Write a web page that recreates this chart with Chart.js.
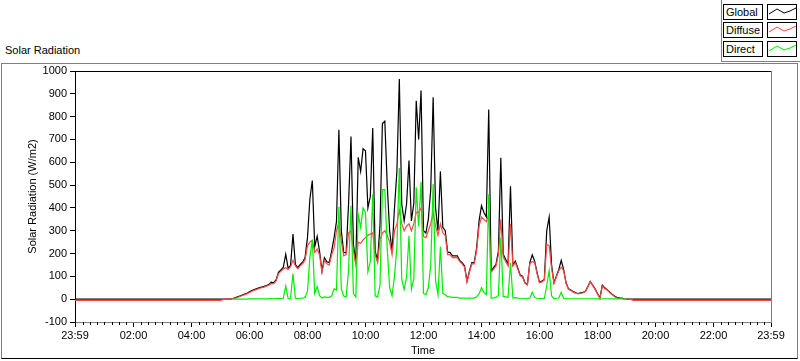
<!DOCTYPE html>
<html>
<head>
<meta charset="utf-8">
<title>Solar Radiation</title>
<script src="https://cdn.jsdelivr.net/npm/chart.js@4.4.1/dist/chart.umd.min.js"></script>
<style>
  html, body { margin: 0; padding: 0; background: #fff; }
  body { width: 800px; height: 361px; position: relative; overflow: hidden;
         font-family: "Liberation Sans", Arial, sans-serif; font-size: 11px; color: #000; }
  .frame { position: absolute; left: 1px; top: 63px; width: 795px; height: 294px;
           border: 1px solid #808080; border-bottom-color: #000; }
  .legpanel { position: absolute; left: 721px; top: 0; width: 79px; height: 61px;
              border-left: 1px solid #808080; border-bottom: 1px solid #808080; }
  .caption { position: absolute; left: 5px; top: 44px; }
  .lab, .swatch { position: absolute; height: 16px; box-sizing: border-box;
                  border: 1px solid #000; background: #fff; }
  .lab { left: 723px; width: 40px; padding-left: 2px; line-height: 14px; }
  .swatch { left: 767px; width: 30px; }
  .swatch svg { display: block; }
  canvas { position: absolute; left: 0; top: 0; }
</style>
</head>
<body>
<div class="frame"></div>
<div class="legpanel"></div>
<div class="caption">Solar Radiation</div>

<div class="lab" style="top:4px">Global</div>
<div class="swatch" style="top:4px"><svg width="28" height="14"><polyline points="1,9 9,4 16,8 22,6 28,3" fill="none" stroke="#000"/></svg></div>
<div class="lab" style="top:22px">Diffuse</div>
<div class="swatch" style="top:22px"><svg width="28" height="14"><polyline points="1,9 9,4 16,8 22,6 28,3" fill="none" stroke="#ff4444"/></svg></div>
<div class="lab" style="top:41px">Direct</div>
<div class="swatch" style="top:41px"><svg width="28" height="14"><polyline points="1,9 9,4 16,8 22,6 28,3" fill="none" stroke="#00ee00"/></svg></div>

<canvas id="chart" width="800" height="361"></canvas>

<script>
// x axis is minutes after midnight, running 23:59 -> 23:59
const axisStart = -1;
const axisEnd = 1439;
const majorTicks = [-1, 120, 240, 360, 480, 600, 720, 840, 960, 1080, 1200, 1320, 1439];
const yMin = -100;
const yMax = 1000;

// daytime readings, one every 5 minutes starting 05:00 (one row per hour)
const dayStart = 300;
const dayStep = 5;

const globalDay = [
  0, 0, 0, 0, 0, 3, 6, 10, 14, 18, 22, 26,                    // 05
  32, 38, 42, 46, 50, 53, 56, 60, 64, 75, 72, 84,             // 06
  118, 128, 140, 197, 135, 148, 285, 152, 138, 152, 162, 182, // 07
  270, 440, 520, 230, 275, 210, 123, 182, 164, 160, 211, 270, // 08
  340, 743, 300, 204, 204, 417, 713, 241, 160, 622, 560, 659, // 09
  650, 400, 450, 750, 210, 170, 320, 770, 780, 500, 300, 210, // 10
  400, 560, 965, 417, 343, 417, 608, 343, 420, 870, 700, 915, // 11
  300, 290, 350, 480, 885, 400, 300, 560, 315, 300, 205, 205, // 12
  190, 190, 190, 170, 160, 145, 79, 123, 160, 160, 226, 343,  // 13
  410, 380, 360, 831, 123, 138, 153, 211, 620, 197, 175, 153, // 14
  495, 150, 167, 138, 106, 101, 72, 65, 160, 194, 167, 116,   // 15
  75, 79, 86, 300, 360, 150, 72, 101, 130, 170, 130, 72,      // 16
  45, 40, 33, 28, 25, 28, 30, 35, 55, 78, 62, 45,             // 17
  25, 5, 62, 50, 42, 32, 22, 14, 8, 6, 5, 2,                  // 18
  0, 0, 0, 0                                                  // 19
];

const diffuseDay = [
  -5, -2, 0, 0, 0, 2, 4, 8, 12, 16, 20, 24,
  29, 35, 39, 43, 47, 50, 53, 57, 61, 68, 68, 80,
  112, 122, 133, 138, 130, 142, 170, 146, 133, 146, 156, 172,
  235, 250, 258, 205, 220, 195, 118, 170, 155, 150, 195, 225,
  300, 335, 255, 190, 195, 290, 300, 215, 150, 250, 245, 260,
  270, 280, 285, 290, 195, 160, 260, 290, 300, 280, 250, 195,
  300, 330, 390, 330, 300, 320, 330, 300, 330, 380, 380, 400,
  275, 270, 300, 330, 380, 320, 280, 330, 290, 280, 195, 195,
  182, 182, 182, 165, 155, 140, 75, 118, 155, 155, 215, 320,
  360, 350, 340, 370, 118, 132, 145, 195, 350, 185, 165, 145,
  330, 145, 160, 133, 102, 97, 70, 62, 155, 165, 160, 112,
  72, 76, 83, 240, 235, 135, 70, 97, 125, 140, 126, 70,
  43, 38, 31, 26, 23, 26, 28, 33, 53, 76, 60, 43,
  23, 3, 58, 47, 40, 30, 20, 12, 6, 4, 3, 0,
  0, 0, -2, -5
];

const directDay = [
  null, null, null, null, null, 0, 0, 0, 0, 0, 0, 0,
  1, 1, 1, 1, 1, 1, 1, 1, 1, 3, 2, 3,
  3, 3, 4, 58, 3, 4, 112, 4, 3, 4, 4, 8,
  35, 185, 260, 25, 55, 15, 5, 10, 8, 8, 15, 45,
  40, 405, 45, 14, 9, 127, 410, 25, 10, 370, 315, 400,
  380, 120, 165, 460, 15, 10, 60, 480, 480, 220, 50, 15,
  100, 230, 575, 87, 43, 97, 278, 43, 90, 490, 320, 515,
  25, 20, 50, 150, 505, 80, 20, 230, 25, 20, 10, 10,
  8, 8, 8, 5, 5, 5, 4, 5, 5, 5, 11, 23,
  50, 30, 20, 460, 5, 6, 8, 16, 270, 12, 10, 8,
  160, 5, 7, 5, 4, 4, 2, 3, 5, 30, 7, 4,
  3, 3, 3, 60, 125, 15, 2, 4, 5, 30, 4, 2,
  2, 2, 2, 2, 2, 2, 2, 2, 2, 2, 2, 2,
  1, 1, 2, 2, 2, 1, 1, 1, 1, 1, 1, 0,
  0, null, null, null
];

// flat night-time levels (direct is not logged at night)
const nightGlobal = 0;
const nightDiffuse = -5;

function toPoints(day, night) {
  const pts = [];
  if (night !== null) pts.push({ x: axisStart, y: night });
  day.forEach((v, i) => pts.push({ x: dayStart + i * dayStep, y: v }));
  if (night !== null) pts.push({ x: axisEnd, y: night });
  return pts;
}

function clock(v) {
  if (v < 0 || v >= 1439) return '23:59';
  const h = Math.floor(v / 60), m = v % 60;
  return String(h).padStart(2, '0') + ':' + String(m).padStart(2, '0');
}

const font = { family: '"Liberation Sans", Arial, sans-serif', size: 11 };

// top/right edge of the plot and the small 15 minute ticks
const plotDecor = {
  id: 'plotDecor',
  afterDraw(chart) {
    const { ctx, chartArea: a } = chart;
    const xs = chart.scales.x;
    ctx.save();
    ctx.lineWidth = 1;
    ctx.strokeStyle = '#000';
    ctx.beginPath();
    ctx.moveTo(a.left, a.top + 0.5);
    ctx.lineTo(a.right, a.top + 0.5);
    for (let m = 15; m < 1439; m += 15) {
      if (m % 120 === 0) continue;
      const px = Math.round(xs.getPixelForValue(m)) + 0.5;
      ctx.moveTo(px, a.bottom);
      ctx.lineTo(px, a.bottom + 3);
    }
    ctx.stroke();
    ctx.strokeStyle = '#808080';
    ctx.beginPath();
    ctx.moveTo(a.right + 0.5, a.top);
    ctx.lineTo(a.right + 0.5, a.bottom);
    ctx.stroke();
    ctx.restore();
  }
};

const ctx = document.getElementById('chart').getContext('2d');

new Chart(ctx, {
  type: 'line',
  data: {
    datasets: [
      { label: 'Direct', data: toPoints(directDay, null), borderColor: '#00ee00', order: 0 },
      { label: 'Diffuse', data: toPoints(diffuseDay, nightDiffuse), borderColor: '#ff4444', order: 1 },
      { label: 'Global', data: toPoints(globalDay, nightGlobal), borderColor: '#000000', order: 2 }
    ]
  },
  options: {
    responsive: false,
    animation: false,
    elements: {
      point: { radius: 0 },
      line: { borderWidth: 1.2, tension: 0 }
    },
    layout: { padding: { left: 0, top: 71, right: 29, bottom: 0 } },
    plugins: {
      legend: { display: false },
      tooltip: { enabled: false }
    },
    scales: {
      x: {
        type: 'linear',
        min: axisStart,
        max: axisEnd,
        afterBuildTicks: (s) => { s.ticks = majorTicks.map(v => ({ value: v })); },
        afterFit: (s) => { s.height = 39; },
        ticks: { callback: clock, color: '#000', font: font, padding: 2, maxRotation: 0, autoSkip: false },
        grid: { drawOnChartArea: false, drawTicks: true, tickLength: 5, tickColor: '#000' },
        border: { color: '#808080' },
        title: { display: true, text: 'Time', color: '#000', font: font, padding: { top: 0, bottom: 3 } }
      },
      y: {
        min: yMin,
        max: yMax,
        afterFit: (s) => { s.width = 75; },
        ticks: { stepSize: 100, color: '#000', font: font, padding: 3, callback: (v) => String(v) },
        grid: { drawOnChartArea: false, drawTicks: true, tickLength: 5, tickColor: '#000' },
        border: { color: '#000' },
        title: { display: true, text: 'Solar Radiation (W/m2)', color: '#000', font: font, padding: { top: 26, bottom: 0 } }
      }
    }
  },
  plugins: [plotDecor]
});
</script>
</body>
</html>
